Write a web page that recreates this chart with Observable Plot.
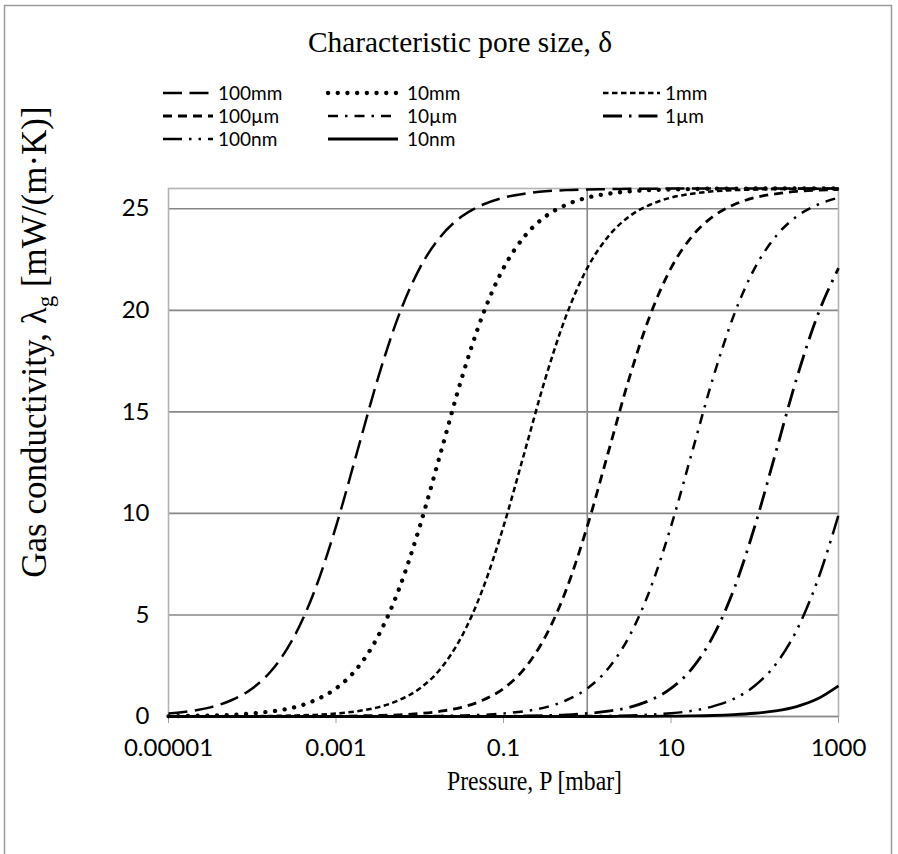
<!DOCTYPE html>
<html><head><meta charset="utf-8">
<script src="https://cdn.jsdelivr.net/npm/d3@7"></script>
<script src="https://cdn.jsdelivr.net/npm/@observablehq/plot@0.6"></script>
<style>
html,body{margin:0;padding:0;background:#fff;}
#chart{position:relative;width:898px;height:854px;}
</style></head><body><div id="chart"></div>
<script>
// Pressure grid [mbar]
const pressure = [0.00001, 0.0000178, 0.0000316, 0.0000562, 0.0001, 0.000178, 0.000316, 0.000562,
  0.001, 0.00178, 0.00316, 0.00562, 0.01, 0.0178, 0.0316, 0.0562, 0.1, 0.178, 0.316, 0.562,
  1, 1.78, 3.16, 5.62, 10, 17.8, 31.6, 56.2, 100, 178, 316, 562, 1000];

const seriesNames = ["100mm", "10mm", "1mm", "100µm", "10µm", "1µm", "100nm", "10nm"];

// Gas conductivity [mW/(m·K)]
const s100mm = [0.15, 0.26, 0.45, 0.80, 1.38, 2.36, 3.93, 6.25, 9.36, 13.00, 16.64, 19.75, 22.08, 23.64, 24.62, 25.20, 25.55, 25.74, 25.86, 25.92, 25.95, 25.97, 25.99, 25.99, 26.00, 26.00, 26.00, 26.00, 26.00, 26.00, 26.00, 26.00, 26.00];
const s10mm = [0.01, 0.03, 0.05, 0.08, 0.15, 0.26, 0.45, 0.80, 1.38, 2.36, 3.93, 6.25, 9.36, 13.00, 16.64, 19.75, 22.08, 23.64, 24.62, 25.20, 25.55, 25.74, 25.86, 25.92, 25.95, 25.97, 25.99, 25.99, 26.00, 26.00, 26.00, 26.00, 26.00];
const s1mm = [0.00, 0.00, 0.00, 0.01, 0.01, 0.03, 0.05, 0.08, 0.15, 0.26, 0.45, 0.80, 1.38, 2.36, 3.93, 6.25, 9.36, 13.00, 16.64, 19.75, 22.08, 23.64, 24.62, 25.20, 25.55, 25.74, 25.86, 25.92, 25.95, 25.97, 25.99, 25.99, 26.00];
const s100um = [0.00, 0.00, 0.00, 0.00, 0.00, 0.00, 0.00, 0.01, 0.01, 0.03, 0.05, 0.08, 0.15, 0.26, 0.45, 0.80, 1.38, 2.36, 3.93, 6.25, 9.36, 13.00, 16.64, 19.75, 22.08, 23.64, 24.62, 25.20, 25.55, 25.74, 25.86, 25.92, 25.95];
const s10um = [0.00, 0.00, 0.00, 0.00, 0.00, 0.00, 0.00, 0.00, 0.00, 0.00, 0.00, 0.01, 0.01, 0.03, 0.05, 0.08, 0.15, 0.26, 0.45, 0.80, 1.38, 2.36, 3.93, 6.25, 9.36, 13.00, 16.64, 19.75, 22.08, 23.64, 24.62, 25.20, 25.55];
const s1um = [0.00, 0.00, 0.00, 0.00, 0.00, 0.00, 0.00, 0.00, 0.00, 0.00, 0.00, 0.00, 0.00, 0.00, 0.00, 0.01, 0.01, 0.03, 0.05, 0.08, 0.15, 0.26, 0.45, 0.80, 1.38, 2.36, 3.93, 6.25, 9.36, 13.00, 16.64, 19.75, 22.08];
const s100nm = [0.00, 0.00, 0.00, 0.00, 0.00, 0.00, 0.00, 0.00, 0.00, 0.00, 0.00, 0.00, 0.00, 0.00, 0.00, 0.00, 0.00, 0.00, 0.01, 0.01, 0.02, 0.03, 0.05, 0.09, 0.16, 0.28, 0.50, 0.87, 1.51, 2.57, 4.24, 6.69, 9.92];
const s10nm = [0.00, 0.00, 0.00, 0.00, 0.00, 0.00, 0.00, 0.00, 0.00, 0.00, 0.00, 0.00, 0.00, 0.00, 0.00, 0.00, 0.00, 0.00, 0.00, 0.00, 0.00, 0.00, 0.01, 0.01, 0.02, 0.03, 0.05, 0.09, 0.16, 0.28, 0.49, 0.87, 1.51];

const xTickValues = [0.00001, 0.001, 0.1, 10, 1000];
const xTickLabels = ["0.00001", "0.001", "0.1", "10", "1000"];
const yTickValues = [0, 5, 10, 15, 20, 25];

const titleText = "Characteristic pore size, δ";
const xTitle = "Pressure, P [mbar]";

const seriesValues = [s100mm, s10mm, s1mm, s100um, s10um, s1um, s100nm, s10nm];
const rows = seriesNames.flatMap((s, i) => pressure.map((p, k) => ({s, p, v: seriesValues[i][k]})));

// line styles (dash patterns)
const styles = [
  {dash: "19,7.5", w: 2.5, cap: "butt"},
  {dash: "0.1,9.6", w: 4.3, cap: "round"},
  {dash: "5.5,3.5", w: 2.5, cap: "butt"},
  {dash: "9,6", w: 2.8, cap: "butt"},
  {dash: "10,7,2.5,7", w: 2.5, cap: "butt"},
  {dash: "19,7,2.5,7", w: 2.8, cap: "butt"},
  {dash: "19,7,2.5,7,2.5,7", w: 2.5, cap: "butt"},
  {dash: null, w: 2.8, cap: "butt"}
];

const gridColor = "#878787";
const lineMarks = seriesNames.map((name, i) => Plot.line(rows.filter(d => d.s === name), {
  x: "p", y: "v", stroke: "#000", strokeWidth: styles[i].w,
  strokeDasharray: styles[i].dash || undefined, strokeLinecap: styles[i].cap,
  curve: "monotone-x"
}));

const chart = Plot.plot({
  width: 898, height: 854,
  marginLeft: 168, marginRight: 60, marginTop: 188, marginBottom: 138,
  style: {fontFamily: "Lato, sans-serif", fontSize: "24px", color: "#000", background: "#fff", overflow: "visible"},
  x: {type: "log", domain: [0.00001, 1000]},
  y: {domain: [0, 26]},
  marks: [
    Plot.ruleY(yTickValues.slice(1), {stroke: gridColor, strokeWidth: 1.6}),
    Plot.frame({stroke: "#b3b3b3", strokeWidth: 1.6}),
    Plot.ruleX([1], {stroke: gridColor, strokeWidth: 1.6}),
    Plot.ruleY([0], {stroke: gridColor, strokeWidth: 1.6}),
    Plot.axisX({ticks: xTickValues, tickFormat: d => xTickLabels[xTickValues.indexOf(d)],
      tickSize: 7, tickPadding: 15, stroke: "#a0a0a0", fill: "#000", label: null}),
    Plot.axisY({ticks: yTickValues, tickSize: 0, tickPadding: 19, fill: "#000", label: null}),
    ...lineMarks
  ]
});
document.getElementById("chart").appendChild(chart);

const svg = d3.select(chart);
const serif = "'Liberation Serif', 'Times New Roman', serif";

// outer chart border
svg.append("path").attr("d", "M4.5,854 L4.5,5.5 L891.5,5.5 L891.5,854")
  .attr("fill", "none").attr("stroke", "#9a9a9a").attr("stroke-width", 1.5);

// title
svg.append("text").attr("x", 308).attr("y", 52).attr("text-anchor", "start")
  .attr("textLength", 304).attr("lengthAdjust", "spacingAndGlyphs")
  .style("font-family", serif).style("font-size", "30px").text(titleText);

// legend
const legCols = [{x0: 163, x1: 213, tx: 218}, {x0: 328, x1: 398, tx: 407}, {x0: 603, x1: 660, tx: 665}];
const legRows = [93, 116, 139];
seriesNames.forEach((name, i) => {
  const c = legCols[i % 3], r = legRows[Math.floor(i / 3)];
  const st = styles[i];
  const ln = svg.append("line").attr("x1", c.x0).attr("x2", c.x1).attr("y1", r).attr("y2", r)
    .attr("stroke", "#000").attr("stroke-width", st.w).attr("stroke-linecap", st.cap);
  if (st.dash) ln.attr("stroke-dasharray", st.dash);
  svg.append("text").attr("x", c.tx).attr("y", r)
    .attr("dy", "0.36em").attr("text-anchor", "start")
    .style("font-family", "Lato, sans-serif").style("font-size", "19px").text(name);
});

// y axis title
const yt = svg.append("text").attr("transform", "translate(46,342) rotate(-90)").attr("text-anchor", "middle")
  .style("font-family", serif).style("font-size", "35px");
yt.append("tspan").text("Gas conductivity, λ");
yt.append("tspan").attr("dy", "0.3em").style("font-size", "23px").text("g");
yt.append("tspan").attr("dy", "-0.2em").text(" [mW/(m·K)]");

// x axis title
svg.append("text").attr("x", 447).attr("y", 790).attr("text-anchor", "start")
  .attr("textLength", 175).attr("lengthAdjust", "spacingAndGlyphs")
  .style("font-family", serif).style("font-size", "28px").text(xTitle);
</script>
</body></html>
